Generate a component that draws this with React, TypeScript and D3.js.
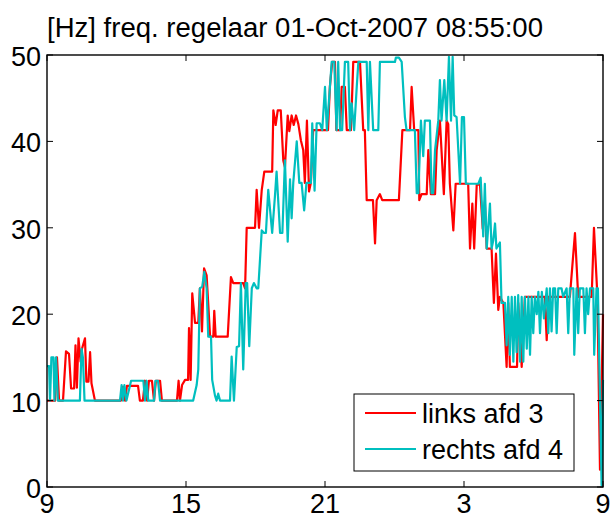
import React from "react";
import * as d3 from "d3";

// Hours after 01-Oct-2007 09:00, value in Hz
const linksAfd3: [number, number][] = [
  [0,10],[0.35,10],[0.43,15],[0.52,10],[0.69,10],[0.82,15.7],[0.95,15.4],[1.04,11.4],[1.17,11.4],[1.23,16.4],[1.29,11.5],[1.36,17.2],[1.45,14.5],[1.51,16],[1.64,17.2],[1.70,12.2],[1.79,12.2],[1.86,15.6],[1.92,12],[2.07,10],
  [3.19,10],[3.28,11.6],[3.37,10],[3.45,11.7],[3.93,11.7],[4.01,10],[4.14,10],[4.23,12.3],[4.32,10],[4.40,12.3],[4.53,12.3],[4.62,10],[4.70,12.3],[4.88,12.3],[4.96,10],
  [5.61,10],[5.68,12.3],[5.74,10],[5.83,11.8],[5.96,12.4],[6.09,12.4],[6.13,18.4],[6.20,12.4],[6.27,22.4],[6.39,19],[6.53,19],[6.60,23],[6.69,18],[6.78,25.3],[6.89,24.5],[7.04,17.4],[7.18,17.4],[7.22,20.4],[7.28,17.4],[7.80,17.4],[7.94,24.3],[8.04,23.6],[8.47,23.6],[8.55,23],[8.62,30],[8.98,30],[9.05,34.4],[9.15,30],[9.27,34.4],[9.38,36.5],[9.72,36.5],
  [9.77,43.6],[9.87,41.9],[9.96,43.6],[10.09,43.6],[10.20,37.8],[10.27,37],[10.39,43],[10.46,41.2],[10.56,43],[10.65,41.9],[10.75,43],[10.85,42],[10.96,40.1],[11.06,39],[11.13,35.2],[11.22,42.4],[11.31,34.2],[11.39,35.2],[11.49,41.3],
  [12.13,41.3],[12.21,46.3],[12.31,49.2],[12.43,49.2],[12.49,41.3],[12.65,41.3],[12.72,46.3],[12.86,46.3],[12.94,41.3],[13.12,41.3],[13.22,49.2],[13.51,49.2],[13.65,41.3],[13.72,41.3],[13.80,33.2],[14.07,33.2],[14.16,28.2],[14.23,33.2],[14.37,33.9],[14.47,33.2],[15.19,33.2],[15.34,41.3],[15.67,41.3],[15.74,46.3],[15.85,41.3],[16.03,41.3],
  [16.07,33.2],[16.17,33.9],[16.39,33.9],[16.46,39],[16.57,33.9],[16.75,33.9],[16.82,39],[16.96,42.4],[17.13,33.9],[17.25,42.4],[17.32,42],[17.39,35.1],[17.54,29.7],[17.64,35.1],[18.18,35.1],[18.26,27.6],[18.36,32.8],[18.44,27.6],[18.55,35],[18.69,35],[18.81,29.9],[18.90,33],[18.98,27.6],[19.19,27.6],[19.29,21.3],[19.38,27],[19.48,20.5],[19.55,22],[19.70,21.3],
  [19.84,13.9],[19.91,21.3],[19.98,13.9],[20.29,13.9],[20.34,21.3],[20.49,13.9],[20.63,22],[21.49,22],[21.57,17],[21.64,22],[22.57,22],[22.79,29.4],[22.93,22],[23.51,22],[23.61,30],[23.76,22],[23.87,2],[24,20]
];

const rechtsAfd4: [number, number][] = [
  [0,14],[0.09,14],[0.13,10],[0.19,15],[0.28,15],[0.32,10],[0.39,15],[0.47,10],[1.42,10],[1.49,16],[1.55,15],[1.62,10],
  [3.15,10],[3.22,11.8],[3.28,10],[3.34,11.8],[3.43,10],[3.63,12.3],[4.16,12.3],[4.23,10],[4.30,12.3],[4.37,10],[4.62,10],[4.68,12.3],[4.79,12.3],[4.88,10],
  [6.31,10],[6.46,11.8],[6.53,13.6],[6.60,23],[6.70,23.2],[6.79,24.9],[6.89,23],[6.96,17.4],[7.08,17.4],[7.13,12.4],[7.25,10.6],[7.32,10],[7.39,10.8],[7.47,10],[7.90,10],[7.97,15.1],[8.07,10],[8.19,16.2],[8.29,16.3],[8.37,23.6],[8.47,13.6],[8.58,23.6],[8.64,23.6],[8.73,16.3],[8.84,23],[8.93,23.6],[9.05,23],[9.12,23],
  [9.27,29.7],[9.37,29.4],[9.45,29.4],[9.55,34.4],[9.72,29.4],[9.84,33.7],[9.91,36.5],[10.06,29.4],[10.16,29.4],[10.27,37.8],[10.39,28.4],[10.49,35.6],[10.56,31.1],[10.63,35.2],[10.78,40],[10.89,35.2],[10.99,35.2],[11.10,32],[11.20,35.2],[11.39,35.2],[11.45,42.1],[11.55,34.3],[11.64,42.1],[11.78,42.1],[11.88,41.3],
  [12.00,46.3],[12.08,41.3],[12.29,49.2],[12.40,49.2],[12.50,41.3],[12.57,49.2],[12.65,41.3],[12.74,41.3],[12.86,49.2],[13.00,49.2],[13.08,41.3],[13.15,44.4],[13.26,41.3],[13.37,46.3],[13.44,49.2],[13.80,49.2],[13.87,41.3],[13.94,49.2],[14.08,41.3],[14.30,41.3],[14.37,49.2],[15.02,49.2],[15.06,49.7],[15.19,49.7],[15.31,49.2],[15.45,42.8],[15.52,41.3],[15.88,41.3],
  [15.96,34],[16.03,34],[16.14,42.4],[16.24,38.3],[16.31,42.4],[16.53,42.4],[16.60,34],[16.67,34],[16.75,39],[16.89,42.4],[16.96,47.1],[17.03,42.4],[17.15,47.1],[17.25,42.4],[17.35,49.8],[17.44,42.4],[17.51,49.8],[17.58,43],[17.68,42.8],[17.83,35.1],[17.91,42.8],[18.0,42.8],[18.08,35.1],
  [18.62,35.1],[18.72,35.8],[18.83,29],[18.90,35.1],[18.98,27.6],[19.12,32.8],[19.19,27.6],[19.26,28.5],[19.34,30.5],[19.40,27.6],[19.55,28.3],[19.62,21.3],[19.77,21.3],[19.84,16.4],[19.91,22],[19.98,15.3],[20.06,22],[20.13,14.5],[20.20,22],[20.27,15.6],[20.34,22.2],[20.42,14.5],[20.49,22],[20.56,14.5],[20.63,22],[20.71,16],[20.78,22],[20.85,15.3],[20.92,22],[20.99,17.8],[21.06,22],[21.14,20],[21.21,22.6],[21.28,17.8],[21.36,22.6],[21.45,19.5],
  [21.57,23],[21.64,17.8],[21.71,23],[21.78,18],[21.85,23],[21.93,23],[22.0,17.8],[22.07,23],[22.21,23],[22.28,22],[22.43,23],[22.50,17.8],[22.57,23],[22.72,23],[22.76,15.3],[22.86,23],[22.93,17.8],[23.00,23],[23.15,23],[23.22,17.8],[23.29,23],[23.36,20],[23.44,23],[23.58,23],[23.62,15.3],[23.72,23],[23.78,23],[23.94,0.2],[24,12.4]
];

const seriesNames = ["links afd 3", "rechts afd 4"];
const seriesColors = ["#ff0000", "#00bfbf"];
const xTickHours = [0, 6, 12, 18, 24];
const yTickValues = [0, 10, 20, 30, 40, 50];
const titleText = "[Hz] freq. regelaar 01-Oct-2007 08:55:00";

const START = new Date(2007, 9, 1, 9, 0, 0);
const toDate = (h: number) => new Date(START.getTime() + h * 3600000);

export default function App() {
  const W = 615, H = 515;
  const L = 47, R = 603, T = 55, B = 487;
  const x = d3.scaleTime().domain([START, toDate(24)]).range([L, R]);
  const y = d3.scaleLinear().domain([0, 50]).range([B, T]);
  const fmt = d3.timeFormat("%-H");
  const line = d3
    .line<[number, number]>()
    .x((d) => x(toDate(d[0])))
    .y((d) => y(d[1]));
  const font = "'Liberation Sans', Arial, sans-serif";
  const fs = 27;
  const tl = 6;
  const series = [linksAfd3, rechtsAfd4];
  const legX = 354, legY = 394, legW = 220, legH = 77;
  return (
    <svg width={W} height={H} style={{ position: "absolute", left: 0, top: 0, background: "#fff" }} fontFamily={font}>
      <rect x={0} y={0} width={W} height={H} fill="#fff" />
      <text x={L} y={37} fontSize={fs} fill="#000" textLength={496} lengthAdjust="spacingAndGlyphs">{titleText}</text>
      {series.map((s, i) => (
        <path key={i} d={line(s) || ""} fill="none" stroke={seriesColors[i]} strokeWidth={2.2} strokeLinejoin="round" />
      ))}
      <rect x={L} y={T} width={R - L} height={B - T} fill="none" stroke="#000" strokeWidth={1.4} />
      {xTickHours.map((h) => {
        const px = x(toDate(h));
        return (
          <g key={"x" + h}>
            <line x1={px} x2={px} y1={B} y2={B - tl} stroke="#000" />
            <line x1={px} x2={px} y1={T} y2={T + tl} stroke="#000" />
            <text x={px} y={B + 26} fontSize={fs} textAnchor="middle">{fmt(toDate(h))}</text>
          </g>
        );
      })}
      {yTickValues.map((v) => {
        const py = y(v);
        return (
          <g key={"y" + v}>
            <line x1={L} x2={L + tl} y1={py} y2={py} stroke="#000" />
            <line x1={R} x2={R - tl} y1={py} y2={py} stroke="#000" />
            <text x={L - 6} y={py + 11} fontSize={fs} textAnchor="end">{v}</text>
          </g>
        );
      })}
      <rect x={legX} y={legY} width={legW} height={legH} fill="#fff" stroke="#000" strokeWidth={1} />
      {seriesNames.map((n, i) => {
        const ly = legY + 19 + i * 36;
        return (
          <g key={n}>
            <line x1={legX + 11} x2={legX + 62} y1={ly} y2={ly} stroke={seriesColors[i]} strokeWidth={2.2} />
            <text x={legX + 68} y={ly + 10} fontSize={fs}>{n}</text>
          </g>
        );
      })}
    </svg>
  );
}
